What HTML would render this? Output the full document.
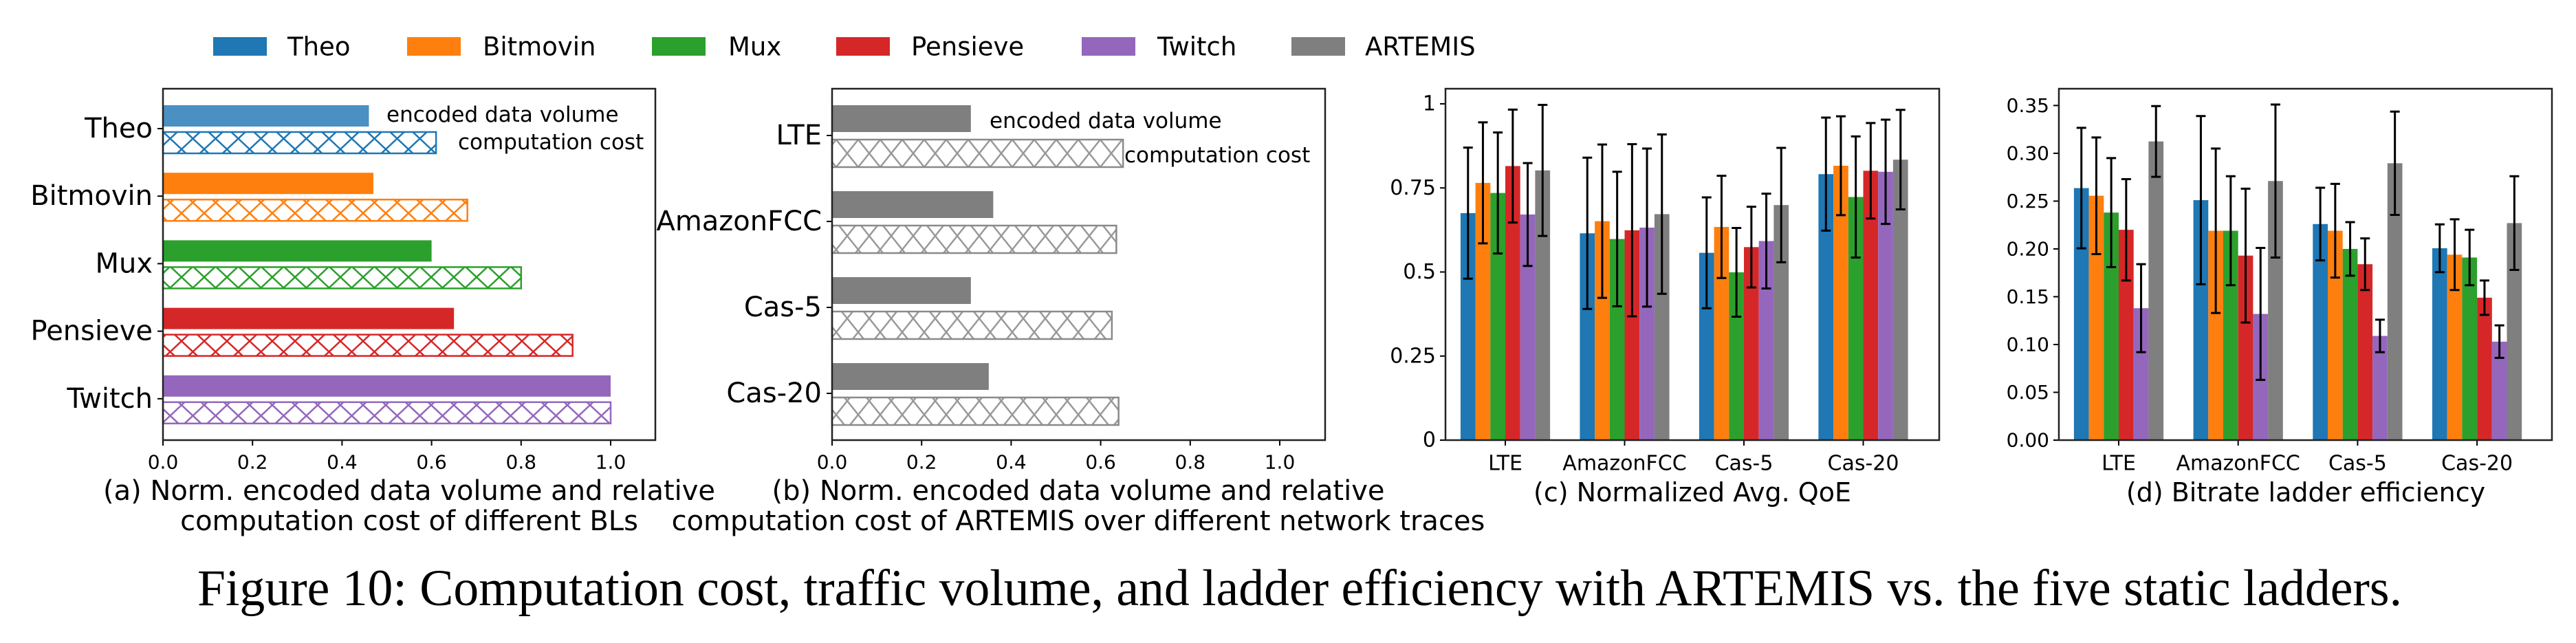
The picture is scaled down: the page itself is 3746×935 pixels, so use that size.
<!DOCTYPE html>
<html><head><meta charset="utf-8"><style>
html,body{margin:0;padding:0;background:#fff;}
svg{display:block;}
text{font-family:"DejaVu Sans","Liberation Sans",sans-serif;fill:#000;}
.cap{font-family:"Liberation Serif",serif;}
</style></head><body>
<svg id="fig" xmlns="http://www.w3.org/2000/svg" width="3746" height="935" viewBox="0 0 3746 935">
<defs>
<pattern id="hTheo" patternUnits="userSpaceOnUse" width="33" height="31"><path d="M0,0L33,31M33,0L0,31" stroke="#1f77b4" stroke-width="2.5"/></pattern>
<pattern id="hBitmovin" patternUnits="userSpaceOnUse" width="33" height="31"><path d="M0,0L33,31M33,0L0,31" stroke="#ff7f0e" stroke-width="2.5"/></pattern>
<pattern id="hMux" patternUnits="userSpaceOnUse" width="33" height="31"><path d="M0,0L33,31M33,0L0,31" stroke="#2ca02c" stroke-width="2.5"/></pattern>
<pattern id="hPensieve" patternUnits="userSpaceOnUse" width="33" height="31"><path d="M0,0L33,31M33,0L0,31" stroke="#d62728" stroke-width="2.5"/></pattern>
<pattern id="hTwitch" patternUnits="userSpaceOnUse" width="33" height="31"><path d="M0,0L33,31M33,0L0,31" stroke="#9467bd" stroke-width="2.5"/></pattern>
<pattern id="hGrey" patternUnits="userSpaceOnUse" width="32" height="40" y="203"><path d="M0,0L32,40M32,0L0,40" stroke="#999" stroke-width="2.5"/></pattern>
</defs>
<g id="legend"></g>
<g id="pa"></g>
<g id="pb"></g>
<g id="pc"></g>
<g id="pd"></g>
<text class="cap" x="287" y="880" font-size="75" textLength="3206" lengthAdjust="spacingAndGlyphs">Figure 10: Computation cost, traffic volume, and ladder efficiency with ARTEMIS vs. the five static ladders.</text>
</svg>
<script>
const seriesNames = ['Theo','Bitmovin','Mux','Pensieve','Twitch','ARTEMIS'];
const seriesColors = ['#1f77b4','#ff7f0e','#2ca02c','#d62728','#9467bd','#7f7f7f'];

// Panel (a)
const catsA = ['Theo','Bitmovin','Mux','Pensieve','Twitch'];
const volA = [0.46, 0.47, 0.60, 0.65, 1.0];
const costA = [0.61, 0.68, 0.80, 0.915, 1.0];
const ticksA = [0, 0.2, 0.4, 0.6, 0.8, 1.0];
const tickLabelsA = ['0.0','0.2','0.4','0.6','0.8','1.0'];

// Panel (b)
const catsB = ['LTE','AmazonFCC','Cas-5','Cas-20'];
const volB = [0.31, 0.36, 0.31, 0.35];
const costB = [0.65, 0.635, 0.625, 0.64];

// Panel (c) QoE means and errors per series
const groups = ['LTE','AmazonFCC','Cas-5','Cas-20'];
const qoeTheo = [0.675, 0.615, 0.557, 0.791];
const qoeBitmovin = [0.765, 0.651, 0.634, 0.816];
const qoeMux = [0.735, 0.598, 0.499, 0.723];
const qoePensieve = [0.815, 0.624, 0.574, 0.801];
const qoeTwitch = [0.671, 0.632, 0.592, 0.798];
const qoeArtemis = [0.802, 0.672, 0.699, 0.834];
const qoeErrTheo = [0.195, 0.225, 0.165, 0.168];
const qoeErrBitmovin = [0.18, 0.228, 0.152, 0.147];
const qoeErrMux = [0.18, 0.2, 0.132, 0.18];
const qoeErrPensieve = [0.168, 0.256, 0.12, 0.142];
const qoeErrTwitch = [0.153, 0.235, 0.141, 0.155];
const qoeErrArtemis = [0.195, 0.237, 0.17, 0.148];
const ticksC = [0, 0.25, 0.5, 0.75, 1];
const tickLabelsC = ['0','0.25','0.5','0.75','1'];

// Panel (d) ladder efficiency
const effTheo = [0.2636, 0.251, 0.226, 0.2007];
const effBitmovin = [0.2556, 0.219, 0.219, 0.194];
const effMux = [0.238, 0.219, 0.2, 0.191];
const effPensieve = [0.22, 0.193, 0.184, 0.149];
const effTwitch = [0.138, 0.132, 0.109, 0.103];
const effArtemis = [0.3124, 0.271, 0.2896, 0.227];
const effErrTheo = [0.063, 0.088, 0.038, 0.025];
const effErrBitmovin = [0.061, 0.086, 0.049, 0.037];
const effErrMux = [0.057, 0.057, 0.028, 0.029];
const effErrPensieve = [0.053, 0.07, 0.027, 0.018];
const effErrTwitch = [0.046, 0.069, 0.017, 0.017];
const effErrArtemis = [0.037, 0.08, 0.054, 0.049];
const ticksD = [0, 0.05, 0.1, 0.15, 0.2, 0.25, 0.3, 0.35];
const tickLabelsD = ['0.00','0.05','0.10','0.15','0.20','0.25','0.30','0.35'];

const NS = 'http://www.w3.org/2000/svg';
function mk(parent, tag, attrs, txt) {
  const e = document.createElementNS(NS, tag);
  for (const k in attrs) e.setAttribute(k, attrs[k]);
  if (txt !== undefined) e.textContent = txt;
  parent.appendChild(e);
  return e;
}

// Legend
const lg = document.getElementById('legend');
const legPatchX = [310, 592, 948, 1216, 1573, 1878];
const legTextX = [418, 702, 1059, 1325, 1683, 1985];
seriesNames.forEach((n, i) => {
  const r = mk(lg, 'rect', {x: legPatchX[i], y: 54, width: 78, height: 27, fill: seriesColors[i]});
  
  
  const t = mk(lg, 'text', {x: legTextX[i], y: 68, 'font-size': 37, 'dominant-baseline': 'central'}, n);
  
  
});

// Panel (a)
(function(){
  const g = document.getElementById('pa');
  const x = v => 237 + v * 651;
  const yc = i => 187 + i * 98.2;
  const hatches = ['hTheo','hBitmovin','hMux','hPensieve','hTwitch'];
  catsA.forEach((c, i) => {
    const col = i === 0 ? '#4a90c2' : seriesColors[i];
    const r1 = mk(g, 'rect', {x: x(0), y: yc(i) - 34, width: x(volA[i]) - x(0), height: 31, fill: col});
    
    
    const r2 = mk(g, 'rect', {x: x(0), y: yc(i) + 5, width: x(costA[i]) - x(0), height: 31, fill: 'url(#' + hatches[i] + ')', stroke: seriesColors[i], 'stroke-width': 2.5});
    
    
    mk(g, 'line', {x1: 229, x2: 237, y1: yc(i), y2: yc(i), stroke: '#000', 'stroke-width': 2});
    const t = mk(g, 'text', {x: 222, y: yc(i), 'font-size': 40, 'text-anchor': 'end', 'dominant-baseline': 'central'}, c);
    
    
  });
  ticksA.forEach((v, i) => {
    mk(g, 'line', {x1: x(v), x2: x(v), y1: 640, y2: 648, stroke: '#000', 'stroke-width': 2});
    const t = mk(g, 'text', {x: x(v), y: 672, 'font-size': 28, 'text-anchor': 'middle', 'dominant-baseline': 'central'}, tickLabelsA[i]);
    
    
  });
  mk(g, 'rect', {x: 237, y: 129, width: 716, height: 511, fill: 'none', stroke: '#222', 'stroke-width': 2.5});
  const a1 = mk(g, 'text', {x: 562, y: 167, 'font-size': 31, 'dominant-baseline': 'central'}, 'encoded data volume');
  
  
  const a2 = mk(g, 'text', {x: 666, y: 207, 'font-size': 31, 'dominant-baseline': 'central'}, 'computation cost');
  
  
  const c1 = mk(g, 'text', {x: 595, y: 714, 'font-size': 40, 'text-anchor': 'middle', 'dominant-baseline': 'central'}, '(a) Norm. encoded data volume and relative');
  
  
  mk(g, 'text', {x: 595, y: 758, 'font-size': 40, 'text-anchor': 'middle', 'dominant-baseline': 'central'}, 'computation cost of different BLs');
})();

// Panel (b)
(function(){
  const g = document.getElementById('pb');
  const x = v => 1210 + v * 651;
  const yc = i => 197 + i * 125;
  catsB.forEach((c, i) => {
    const r1 = mk(g, 'rect', {x: x(0), y: yc(i) - 44, width: x(volB[i]) - x(0), height: 39, fill: '#7f7f7f'});
    
    
    const r2 = mk(g, 'rect', {x: x(0), y: yc(i) + 6, width: x(costB[i]) - x(0), height: 40, fill: 'url(#hGrey)', stroke: '#8a8a8a', 'stroke-width': 2.5});
    
    
    mk(g, 'line', {x1: 1202, x2: 1210, y1: yc(i), y2: yc(i), stroke: '#000', 'stroke-width': 2});
    const t = mk(g, 'text', {x: 1195, y: yc(i), 'font-size': 40, 'text-anchor': 'end', 'dominant-baseline': 'central'}, c);
    
    
  });
  ticksA.forEach((v, i) => {
    mk(g, 'line', {x1: x(v), x2: x(v), y1: 640, y2: 648, stroke: '#000', 'stroke-width': 2});
    const t = mk(g, 'text', {x: x(v), y: 672, 'font-size': 28, 'text-anchor': 'middle', 'dominant-baseline': 'central'}, tickLabelsA[i]);
    
    
  });
  mk(g, 'rect', {x: 1210, y: 129, width: 717, height: 511, fill: 'none', stroke: '#222', 'stroke-width': 2.5});
  const a1 = mk(g, 'text', {x: 1439, y: 176, 'font-size': 31, 'dominant-baseline': 'central'}, 'encoded data volume');
  
  
  const a2 = mk(g, 'text', {x: 1635, y: 226, 'font-size': 31, 'dominant-baseline': 'central'}, 'computation cost');
  
  
  const c1 = mk(g, 'text', {x: 1568, y: 714, 'font-size': 40, 'text-anchor': 'middle', 'dominant-baseline': 'central'}, '(b) Norm. encoded data volume and relative');
  
  
  mk(g, 'text', {x: 1568, y: 758, 'font-size': 40, 'text-anchor': 'middle', 'dominant-baseline': 'central'}, 'computation cost of ARTEMIS over different network traces');
})();

function groupedPanel(gid, left, right, firstX, step, yScale, means, errs, ticks, tickLabels, caption, capX, yFont) {
  const g = document.getElementById(gid);
  const bw = 21.7;
  means.forEach((arr, s) => {
    arr.forEach((v, k) => {
      const cx = firstX + k * step + (s - 2.5) * bw;
      const r = mk(g, 'rect', {x: cx - bw / 2, y: yScale(v), width: bw, height: yScale(0) - yScale(v), fill: seriesColors[s]});
      
      
    });
  });
  means.forEach((arr, s) => {
    arr.forEach((v, k) => {
      const cx = firstX + k * step + (s - 2.5) * bw;
      const hi = yScale(v + errs[s][k]), lo = yScale(v - errs[s][k]);
      const p = mk(g, 'path', {d: `M${cx},${hi}L${cx},${lo}M${cx-7},${hi}L${cx+7},${hi}M${cx-7},${lo}L${cx+7},${lo}`, stroke: '#000', 'stroke-width': 3, fill: 'none'});
      
      
    });
  });
  ticks.forEach((v, i) => {
    mk(g, 'line', {x1: left - 8, x2: left, y1: yScale(v), y2: yScale(v), stroke: '#000', 'stroke-width': 2});
    const t = mk(g, 'text', {x: left - 14, y: yScale(v), 'font-size': yFont, 'text-anchor': 'end', 'dominant-baseline': 'central'}, tickLabels[i]);
    
    
  });
  groups.forEach((c, k) => {
    const cx = firstX + k * step;
    mk(g, 'line', {x1: cx, x2: cx, y1: 640, y2: 648, stroke: '#000', 'stroke-width': 2});
    const t = mk(g, 'text', {x: cx, y: 674, 'font-size': 30, 'text-anchor': 'middle', 'dominant-baseline': 'central'}, c);
    
    
  });
  mk(g, 'rect', {x: left, y: 129, width: right - left, height: 511, fill: 'none', stroke: '#222', 'stroke-width': 2.5});
  const ct = mk(g, 'text', {x: capX, y: 716, 'font-size': 38, 'text-anchor': 'middle', 'dominant-baseline': 'central'}, caption);
  
  
}

groupedPanel('pc', 2102, 2820, 2189, 173.5, v => 640 - v * 489,
  [qoeTheo, qoeBitmovin, qoeMux, qoePensieve, qoeTwitch, qoeArtemis],
  [qoeErrTheo, qoeErrBitmovin, qoeErrMux, qoeErrPensieve, qoeErrTwitch, qoeErrArtemis],
  ticksC, tickLabelsC, '(c) Normalized Avg. QoE', 2461, 30);

groupedPanel('pd', 2994, 3711, 3081, 173.7, v => 640 - v * 1390.3,
  [effTheo, effBitmovin, effMux, effPensieve, effTwitch, effArtemis],
  [effErrTheo, effErrBitmovin, effErrMux, effErrPensieve, effErrTwitch, effErrArtemis],
  ticksD, tickLabelsD, '(d) Bitrate ladder efficiency', 3353, 28);
</script>
</body></html>
